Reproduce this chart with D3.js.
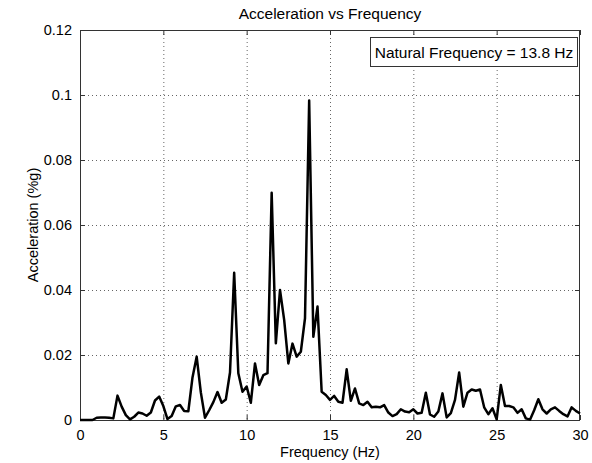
<!DOCTYPE html>
<html><head><meta charset="utf-8">
<script src="https://cdn.jsdelivr.net/npm/d3@7"></script>
<style>body{margin:0;background:#fff;} text{font-family:"Liberation Sans",Arial,sans-serif;}</style>
</head><body>
<svg id="c" width="592" height="463"></svg>
<script>
const freqStep = 0.25;
const accel = [
0,0,0,0,0.0007,0.0008,0.0008,0.0007,0.0005,0.0075,
0.0041,0.0015,0.0002,0.001,0.0023,0.002,0.0013,0.0023,0.006,0.0072,
0.0043,0.0003,0.0012,0.0042,0.0046,0.0028,0.0027,0.0131,0.0195,0.0085,
0.0007,0.003,0.0055,0.0086,0.0053,0.0063,0.0146,0.0453,0.0144,0.0087,
0.0103,0.0053,0.0174,0.0108,0.0138,0.0144,0.0699,0.0236,0.04,0.0308,
0.0174,0.0235,0.0195,0.021,0.0313,0.0983,0.0256,0.0349,0.0087,0.0077,
0.0062,0.0074,0.0056,0.0053,0.0156,0.0059,0.0097,0.0051,0.0046,0.0056,
0.0039,0.0041,0.0039,0.0046,0.0023,0.0012,0.0018,0.0033,0.0026,0.0024,
0.0033,0.002,0.0022,0.0084,0.0017,0.001,0.0026,0.0082,0.0008,0.0021,
0.0062,0.0146,0.0041,0.0084,0.0094,0.009,0.0094,0.0039,0.0018,0.0036,
0.0002,0.0108,0.0043,0.0043,0.0039,0.0022,0.0033,0.0005,0.0001,0.003,
0.0064,0.0033,0.002,0.0033,0.0039,0.0028,0.0018,0.0011,0.0039,0.0028,
0.002
];
const freqs = accel.map((d,i)=>i*freqStep);
const xTicks = [0,5,10,15,20,25,30];
const yTicks = [0,0.02,0.04,0.06,0.08,0.1,0.12];
const yTickLabels = ["0","0.02","0.04","0.06","0.08","0.1","0.12"];
const titleText = "Acceleration vs Frequency";
const xLabel = "Frequency (Hz)";
const yLabel = "Acceleration (%g)";
const legendText = "Natural Frequency = 13.8 Hz";

const L=80,R=580,T=30,B=420;
const svg = d3.select("#c");
const x = d3.scaleLinear().domain([0,30]).range([L,R]);
const y = d3.scaleLinear().domain([0,0.12]).range([B,T]);

// grid
const g = svg.append("g");
g.selectAll("line.gx").data(xTicks.slice(1,-1)).join("line")
 .attr("x1",d=>x(d)+0.5).attr("x2",d=>x(d)+0.5).attr("y1",T).attr("y2",B)
 .attr("stroke","#666").attr("stroke-width",1).attr("stroke-dasharray","1,3");
g.selectAll("line.gy").data(yTicks.slice(1,-1)).join("line")
 .attr("y1",d=>Math.round(y(d))+0.5).attr("y2",d=>Math.round(y(d))+0.5).attr("x1",L).attr("x2",R)
 .attr("stroke","#666").attr("stroke-width",1).attr("stroke-dasharray","1,3");

// axes with inner ticks
const ax = (gen, tr) => svg.append("g").attr("transform",tr).call(gen)
  .call(s=>s.select(".domain").remove())
  .call(s=>s.selectAll("line").attr("stroke","#333"))
  .call(s=>s.selectAll("text").attr("font-size","14.5px").attr("fill","#000").style("font-family","'Liberation Sans',Arial,sans-serif"));
ax(d3.axisBottom(x).tickValues(xTicks).tickSize(-5).tickPadding(10).tickFormat(d3.format("d")), `translate(0,${B})`);
ax(d3.axisTop(x).tickValues(xTicks).tickSize(-5).tickFormat(""), `translate(0,${T})`);
ax(d3.axisLeft(y).tickValues(yTicks).tickSize(-5).tickPadding(8).tickFormat((d,i)=>yTickLabels[i]), `translate(${L},0)`);
ax(d3.axisRight(y).tickValues(yTicks).tickSize(-5).tickFormat(""), `translate(${R},0)`);

svg.append("rect").attr("x",L+0.5).attr("y",T+0.5).attr("width",R-L-1).attr("height",B-T)
  .attr("fill","none").attr("stroke","#333").attr("stroke-width",1);

// line
const line = d3.line().x((d,i)=>x(freqs[i])).y(d=>y(d));
svg.append("path").datum(accel).attr("d",line).attr("fill","none")
  .attr("stroke","#000").attr("stroke-width",2.5).attr("stroke-linejoin","round");

// legend
svg.append("rect").attr("x",370.5).attr("y",37.5).attr("width",207).attr("height",29)
  .attr("fill","#fff").attr("stroke","#333");
svg.append("text").attr("x",474).attr("y",57.5).attr("text-anchor","middle").attr("font-size","15.5px").text(legendText);

// labels
svg.append("text").attr("x",(L+R)/2).attr("y",19).attr("text-anchor","middle").attr("font-size","15.5px").text(titleText);
svg.append("text").attr("x",(L+R)/2).attr("y",457).attr("text-anchor","middle").attr("font-size","14.5px").text(xLabel);
svg.append("text").attr("transform",`translate(38,${(T+B)/2}) rotate(-90)`).attr("text-anchor","middle").attr("font-size","14.5px").text(yLabel);
</script>
</body></html>
